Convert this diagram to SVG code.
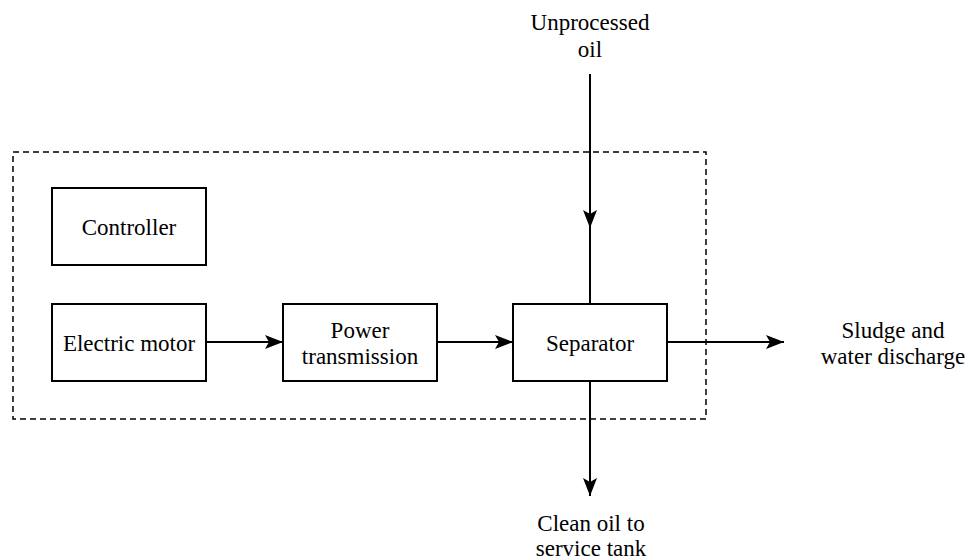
<svg xmlns="http://www.w3.org/2000/svg" width="970" height="560" viewBox="0 0 970 560">
<style>
.box{fill:#fff;stroke:#000;stroke-width:2}
text{font-family:'Liberation Serif','DejaVu Serif',serif;font-size:23px;fill:#000;text-anchor:middle}
.c{stroke:#000;stroke-width:2;fill:none}
</style>
<defs>
<marker id="ah" viewBox="0 0 18 14" refX="18" refY="7" markerWidth="18" markerHeight="14" markerUnits="userSpaceOnUse" orient="auto">
<path d="M0,0 L18,7 L0,14 L4,7 Z" fill="#000"/>
</marker>
</defs>
<rect x="13" y="152" width="693" height="267" fill="none" stroke="#000" stroke-width="1.5" stroke-dasharray="6,4"/>
<g id="connectors">
<line class="c" x1="590" y1="74" x2="590" y2="228" marker-end="url(#ah)"/>
<line class="c" x1="590" y1="226" x2="590" y2="304"/>
<line class="c" x1="206" y1="342" x2="283" y2="342" marker-end="url(#ah)"/>
<line class="c" x1="437" y1="342" x2="513" y2="342" marker-end="url(#ah)"/>
<line class="c" x1="667" y1="342" x2="784" y2="342" marker-end="url(#ah)"/>
<line class="c" x1="590" y1="381" x2="590" y2="496" marker-end="url(#ah)"/>
</g>
<g id="controller"><rect class="box" x="52" y="188" width="154" height="77"/><text x="129" y="235">Controller</text></g>
<g id="motor"><rect class="box" x="52" y="304" width="154" height="77"/><text x="129" y="351">Electric motor</text></g>
<g id="power"><rect class="box" x="283" y="304" width="154" height="77"/><text x="360" y="338">Power</text><text x="360" y="364">transmission</text></g>
<g id="separator"><rect class="box" x="513" y="304" width="154" height="77"/><text x="590" y="351">Separator</text></g>
<g id="unprocessed"><text x="590" y="30">Unprocessed</text><text x="590" y="57">oil</text></g>
<g id="sludge"><text x="893" y="338">Sludge and</text><text x="893" y="364">water discharge</text></g>
<g id="clean"><text x="591" y="531">Clean oil to</text><text x="591" y="556">service tank</text></g>
</svg>
